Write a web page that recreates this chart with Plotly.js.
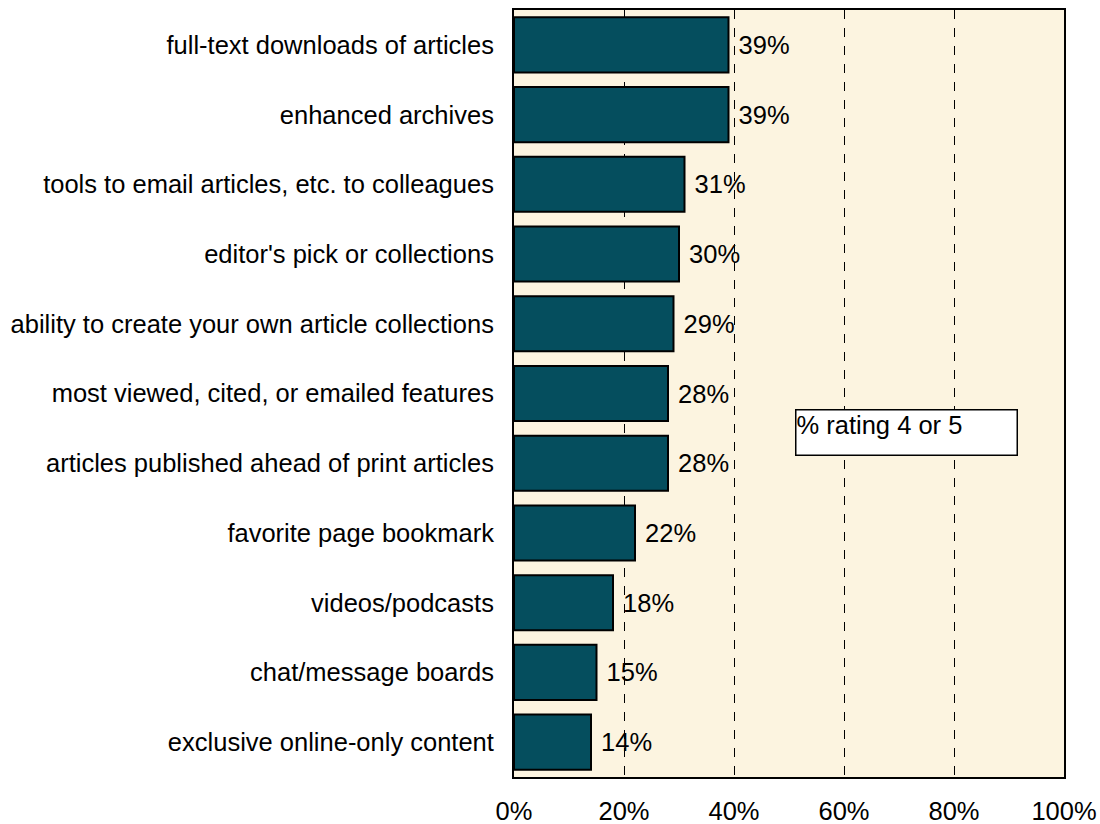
<!DOCTYPE html>
<html><head><meta charset="utf-8">
<script src="https://cdn.plot.ly/plotly-3.0.1.min.js"></script>
<style>body{margin:0;background:#fff}#c{width:1100px;height:824px}</style>
</head><body><div id="c"></div>
<script>
const categories = ["full-text downloads of articles","enhanced archives","tools to email articles, etc. to colleagues","editor's pick or collections","ability to create your own article collections","most viewed, cited, or emailed features","articles published ahead of print articles","favorite page bookmark","videos/podcasts","chat/message boards","exclusive online-only content"];
const values = [39,39,31,30,29,28,28,22,18,15,14];
const labels = ["39%","39%","31%","30%","29%","28%","28%","22%","18%","15%","14%"];
const tickVals = [0,20,40,60,80,100];
const tickText = ["0%","20%","40%","60%","80%","100%"];
const seriesName = "% rating 4 or 5";

const font = {family:"Liberation Sans, Arial, sans-serif", size:25.5, color:"#000"};
const data = [{
  type:"bar", orientation:"h",
  y: categories, x: values, text: labels,
  texttemplate:"\u00a0%{text}",
  textposition:"outside", cliponaxis:false,
  textfont: font,
  marker:{color:"#054e5e", line:{color:"#000", width:2}},
  name: seriesName, hoverinfo:"none"
}];
const layout = {
  width:1100, height:824,
  margin:{l:514, r:36, t:10, b:47},
  paper_bgcolor:"#fff", plot_bgcolor:"#fcf4e0",
  bargap:0.21, showlegend:false, font: font,
  xaxis:{range:[0,100], tickvals:tickVals, ticktext:tickText, showgrid:true,
    gridcolor:"#000", griddash:"dash", gridwidth:1, zeroline:false,
    showline:true, linecolor:"#000", linewidth:2, mirror:true, ticks:"",
    ticklabelstandoff:10, tickfont:font, fixedrange:true},
  yaxis:{autorange:"reversed", showline:true, linecolor:"#000", linewidth:2, mirror:true,
    ticks:"", showgrid:false, ticklabelstandoff:13, tickfont:font, fixedrange:true},
  annotations:[{xref:"x", yref:"paper", x:51, y:(777-409)/767, xanchor:"left", yanchor:"top",
    text:seriesName, showarrow:false, align:"left", valign:"top",
    bgcolor:"#fff", bordercolor:"#000", borderwidth:1.5, borderpad:0,
    width:220, height:44, font:font}]
};
Plotly.newPlot("c", data, layout, {displayModeBar:false, staticPlot:true});
</script></body></html>
